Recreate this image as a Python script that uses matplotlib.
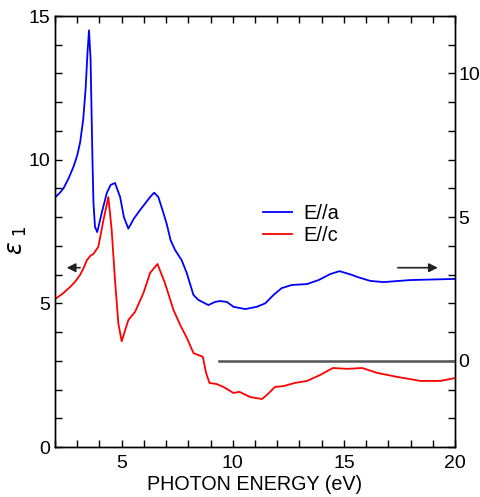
import matplotlib
matplotlib.use("Agg")
import matplotlib.pyplot as plt
from matplotlib.ticker import MultipleLocator

plt.rcParams['font.family'] = ['Liberation Sans', 'DejaVu Sans']

# E//a (left axis, epsilon_1)
energy_a = [2.0, 2.2, 2.38, 2.6, 2.83, 3.0, 3.13, 3.27, 3.38, 3.46, 3.53, 3.6, 3.68, 3.73,
            3.8, 3.9, 4.1, 4.33, 4.5, 4.7, 4.93, 5.1, 5.3, 5.55, 5.83, 6.28, 6.46, 6.65,
            6.88, 7.03, 7.2, 7.4, 7.7, 7.93, 8.23, 8.45, 8.9, 9.2, 9.43, 9.73, 10.03,
            10.56, 11.08, 11.46, 11.83, 12.2, 12.66, 13.34, 13.86, 14.39, 14.8, 15.36,
            15.59, 16.19, 16.79, 17.99, 20.0]
eps_a = [8.69, 8.83, 9.0, 9.33, 9.75, 10.15, 10.6, 11.4, 12.5, 13.7, 14.5, 13.5, 10.2, 8.5,
         7.66, 7.48, 8.14, 8.84, 9.12, 9.19, 8.7, 8.0, 7.6, 7.95, 8.25, 8.7, 8.85, 8.7,
         8.14, 7.75, 7.2, 6.86, 6.5, 6.05, 5.29, 5.12, 4.94, 5.05, 5.08, 5.05, 4.88,
         4.8, 4.88, 5.0, 5.29, 5.53, 5.64, 5.67, 5.81, 6.02, 6.12, 5.99,
         5.92, 5.78, 5.74, 5.81, 5.85]

# E//c (right axis, epsilon_1)
energy_c = [2.0, 2.35, 2.68, 2.9, 3.13, 3.3, 3.43, 3.6, 3.73, 3.95, 4.18, 4.4, 4.55, 4.7,
            4.85, 5.0, 5.3, 5.6, 5.98, 6.28, 6.61, 6.95, 7.33, 7.63, 7.93, 8.23, 8.45,
            8.65, 8.8, 8.95, 9.28, 9.58, 10.03, 10.3, 10.78, 11.31, 11.53, 11.9, 12.28,
            12.8, 13.34, 13.94, 14.5, 15.14, 15.82, 16.49, 17.4, 18.44, 19.34, 20.0]
eps_c = [2.15, 2.34, 2.57, 2.75, 2.99, 3.25, 3.5, 3.66, 3.72, 3.97, 4.9, 5.7, 4.55, 2.8,
         1.3, 0.68, 1.42, 1.7, 2.36, 3.06, 3.37, 2.7, 1.77, 1.25, 0.8, 0.27, 0.2,
         0.14, -0.43, -0.77, -0.81, -0.91, -1.12, -1.08, -1.26, -1.33, -1.19, -0.91,
         -0.88, -0.77, -0.7, -0.49, -0.25, -0.28, -0.25, -0.42, -0.56, -0.7, -0.7, -0.6]

zero_line_x = [9.36, 20.0]
zero_line_y = [0.0, 0.0]

fig = plt.figure(figsize=(4.8, 4.97), dpi=100)
ax = fig.add_axes([0.1146, 0.1006, 0.8334, 0.8672])
ax2 = ax.twinx()

la, = ax.plot(energy_a, eps_a, color='#0000ff', lw=1.3, label='E//a')
lc, = ax2.plot(energy_c, eps_c, color='#ff0000', lw=1.3, label='E//c')
ax2.plot(zero_line_x, zero_line_y, color='#555555', lw=1.8)

ax.set_xlim(2, 20)
ax.set_ylim(0, 15)
ax2.set_ylim(-3, 12)

ax.xaxis.set_major_locator(MultipleLocator(5))
ax.xaxis.set_minor_locator(MultipleLocator(1))
ax.yaxis.set_major_locator(MultipleLocator(5))
ax.yaxis.set_minor_locator(MultipleLocator(1))
ax2.yaxis.set_major_locator(MultipleLocator(5))
ax2.yaxis.set_minor_locator(MultipleLocator(1))

ax.tick_params(axis='both', which='both', direction='in', length=5, width=1,
               labelsize=14, top=True, right=False)
ax.tick_params(axis='x', which='major', pad=6)
ax2.tick_params(axis='y', which='both', direction='in', length=5, width=1,
                labelsize=14, left=False)
ax2.tick_params(axis='y', which='major', pad=2.5)
ax2.set_yticks([0, 5, 10])

for a in (ax, ax2):
    for s in a.spines.values():
        s.set_linewidth(1.0)

ax.set_xlabel('PHOTON ENERGY (eV)', fontsize=14.2, labelpad=2)
ax.set_ylabel(r'$\varepsilon_{\ 1}$', fontsize=17)
ax.yaxis.set_label_coords(-0.066, 0.48)

# arrows indicating axes
ax.annotate('', xy=(2.4, 6.24), xytext=(3.25, 6.24),
            arrowprops=dict(arrowstyle='-|>', color='#222222', lw=1.2, mutation_scale=13))
ax.annotate('', xy=(19.35, 6.24), xytext=(17.3, 6.24),
            arrowprops=dict(arrowstyle='-|>', color='#222222', lw=1.2, mutation_scale=13))

ax.legend(handles=[la, lc], loc='upper left', bbox_to_anchor=(0.475, 0.605),
          frameon=False, fontsize=14.5, handlelength=1.45, handletextpad=0.55,
          labelspacing=0.15)

fig.savefig('out.png', dpi=100)
